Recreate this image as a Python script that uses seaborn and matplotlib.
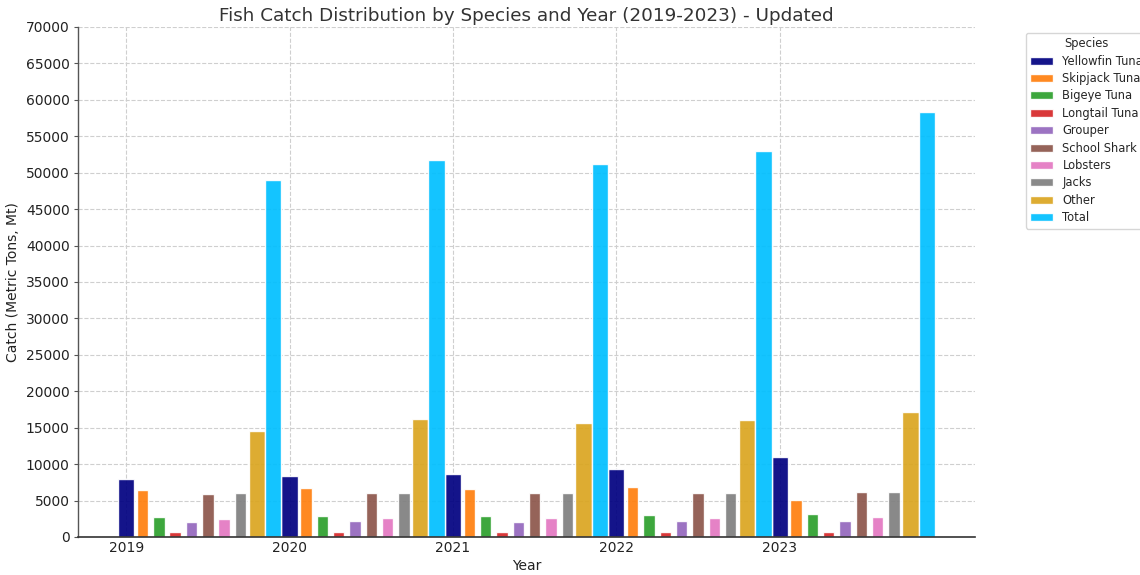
import matplotlib
matplotlib.use("Agg")
import matplotlib.pyplot as plt
import numpy as np
import pandas as pd
import seaborn as sns

# Annual catch per species, metric tons
years = [2019, 2020, 2021, 2022, 2023]
yellowfin_tuna = [8000, 8400, 8700, 9300, 11000]
skipjack_tuna = [6500, 6700, 6600, 6900, 5100]
bigeye_tuna = [2800, 2900, 2900, 3000, 3100]
longtail_tuna = [700, 750, 700, 750, 750]
grouper = [2100, 2200, 2100, 2200, 2200]
school_shark = [5900, 6000, 6000, 6100, 6200]
lobsters = [2500, 2600, 2600, 2600, 2700]
jacks = [6000, 6000, 6000, 6100, 6200]
other = [14500, 16200, 15700, 16000, 17100]
total = [49000, 51700, 51200, 53000, 58300]

species = ["Yellowfin Tuna", "Skipjack Tuna", "Bigeye Tuna", "Longtail Tuna",
           "Grouper", "School Shark", "Lobsters", "Jacks", "Other", "Total"]
series = [yellowfin_tuna, skipjack_tuna, bigeye_tuna, longtail_tuna, grouper,
          school_shark, lobsters, jacks, other, total]
colors = ["navy", "#ff7f0e", "#2ca02c", "#d62728", "#9467bd",
          "#8c564b", "#e377c2", "#7f7f7f", "goldenrod", "deepskyblue"]
widths = [0.1, 0.07, 0.07, 0.07, 0.07, 0.07, 0.07, 0.07, 0.1, 0.1]
step = 0.1

sns.set_style("whitegrid", {"grid.linestyle": "--", "grid.color": "#cfcfcf",
                            "axes.edgecolor": "#333333"})
plt.rcParams["font.family"] = ["DejaVu Sans"]

fig = plt.figure(figsize=(11.4, 5.75), dpi=100)
ax = fig.add_axes([0.0684, 0.0661, 0.7868, 0.887])

for i, (name, vals) in enumerate(zip(species, series)):
    df = pd.DataFrame({"pos": np.array(years, dtype=float) + i * step,
                       "catch": vals})
    sns.barplot(data=df, x="pos", y="catch", native_scale=True,
                width=widths[i], color=colors[i], saturation=1, alpha=0.92,
                edgecolor="white", linewidth=1, errorbar=None,
                label=name, ax=ax)

ax.set_xlim(2018.705, 2024.195)
ax.set_ylim(0, 70000)
ax.set_xticks(years)
ax.set_xticklabels([str(y) for y in years])
ax.set_yticks(np.arange(0, 70001, 5000))
ax.tick_params(axis="y", left=True, length=3, pad=3, color="#555555",
               labelsize=10, labelcolor="#222222")
ax.tick_params(axis="x", bottom=False, length=0, pad=3, color="#555555",
               labelsize=10, labelcolor="#222222")
ax.grid(True, linestyle="--", color="#cfcfcf", linewidth=0.8)
ax.set_axisbelow(True)

for side in ("top", "right"):
    ax.spines[side].set_visible(False)
ax.spines["left"].set_color("#555555")
ax.spines["bottom"].set_color("#333333")
ax.spines["left"].set_linewidth(1.0)
ax.spines["bottom"].set_linewidth(1.2)

ax.set_title("Fish Catch Distribution by Species and Year (2019-2023) - Updated",
             fontsize=13.2, color="#333333", pad=4)
ax.set_xlabel("Year", fontsize=10, color="#222222", labelpad=3)
ax.set_ylabel("Catch (Metric Tons, Mt)", fontsize=10, color="#222222",
              labelpad=4)

ax.legend(title="Species", loc="upper left", bbox_to_anchor=(1.05, 1),
          fontsize=8.3, title_fontsize=8.3, labelspacing=0.38,
          frameon=True, edgecolor="#cccccc")

fig.savefig("out.png", dpi=100)
